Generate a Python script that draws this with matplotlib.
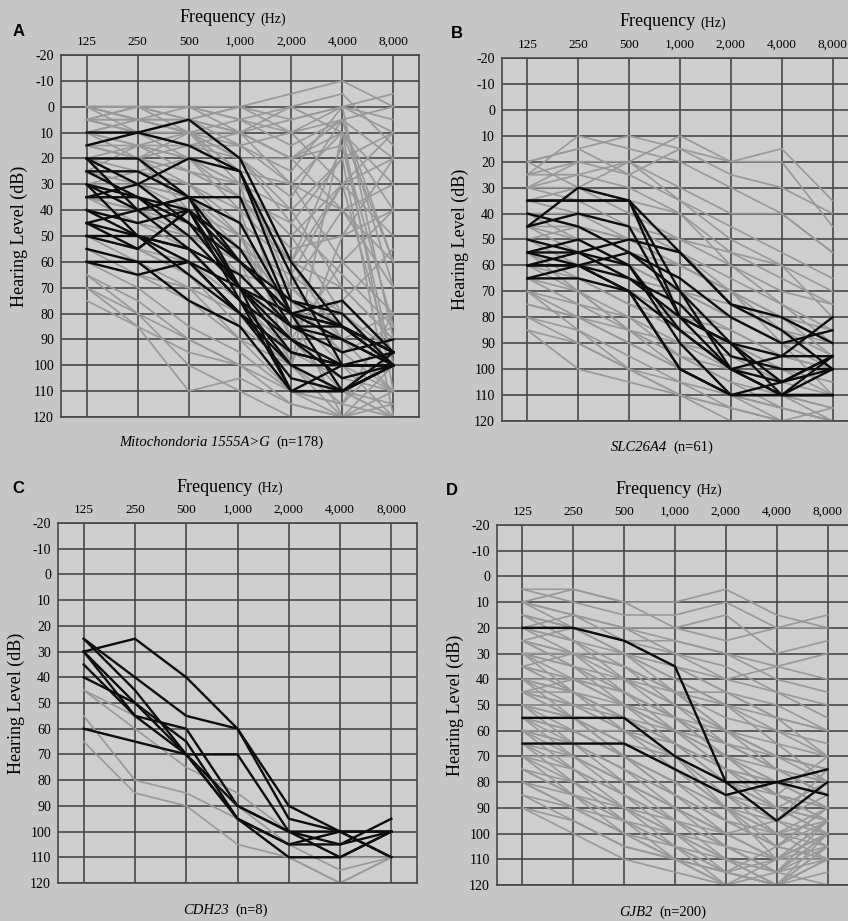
import matplotlib
matplotlib.use("Agg")
import matplotlib.pyplot as plt
import numpy as np

freq_labels = ["125", "250", "500", "1,000", "2,000", "4,000", "8,000"]
db_ticks = [-20, -10, 0, 10, 20, 30, 40, 50, 60, 70, 80, 90, 100, 110, 120]

# hearing levels (dB) at 125, 250, 500, 1k, 2k, 4k, 8k Hz
mito_black = [
    [10, 10, 15, 25, 75, 85, 95],
    [15, 10, 5, 20, 60, 85, 100],
    [20, 20, 35, 45, 80, 85, 100],
    [20, 30, 45, 70, 95, 100, 100],
    [25, 25, 35, 60, 80, 90, 100],
    [25, 35, 40, 70, 110, 110, 100],
    [30, 40, 35, 35, 80, 110, 100],
    [30, 35, 50, 70, 85, 85, 95],
    [35, 30, 20, 25, 65, 100, 100],
    [35, 35, 45, 60, 80, 75, 95],
    [40, 45, 40, 60, 75, 80, 100],
    [45, 40, 35, 70, 90, 105, 100],
    [45, 55, 40, 75, 110, 100, 100],
    [45, 50, 55, 65, 85, 95, 90],
    [50, 50, 55, 75, 100, 110, 100],
    [55, 60, 60, 80, 95, 100, 95],
    [60, 65, 60, 70, 80, 85, 95],
    [60, 60, 75, 85, 110, 110, 100],
    [30, 50, 65, 80, 100, 100, 100],
    [40, 50, 60, 80, 105, 110, 95],
    [20, 40, 55, 75, 90, 100, 100],
    [50, 55, 40, 55, 85, 90, 100],
]
mito_gray = [
    [0, 0, 0, 0, -5, -10, 0], [0, 5, 5, 0, 5, 0, 5], [5, 5, 0, 5, 10, 0, 10],
    [0, 10, 10, 5, 15, 5, 20], [5, 10, 15, 10, 0, -5, 15], [10, 5, 10, 20, 20, 10, 30],
    [15, 20, 10, 25, 30, 40, 60], [0, 0, 5, 15, 30, 60, 80], [10, 15, 20, 30, 50, 80, 100],
    [20, 20, 25, 30, 40, 20, 10], [5, 10, 20, 35, 60, 90, 110], [20, 25, 30, 40, 60, 70, 90],
    [25, 30, 40, 50, 70, 90, 80], [30, 30, 35, 55, 75, 95, 110], [15, 20, 30, 50, 90, 110, 120],
    [10, 20, 40, 60, 80, 100, 100], [35, 45, 55, 65, 70, 85, 100], [40, 45, 50, 60, 60, 30, 20],
    [25, 15, 10, 10, 5, 0, -5], [50, 60, 70, 80, 90, 100, 110], [55, 65, 75, 90, 100, 110, 115],
    [60, 70, 85, 95, 110, 120, 110], [65, 75, 90, 100, 115, 120, 120], [70, 80, 100, 110, 120, 120, 115],
    [70, 85, 110, 105, 115, 120, 120], [65, 80, 90, 100, 100, 110, 120], [45, 55, 65, 85, 100, 120, 120],
    [5, 0, 5, 10, 20, 40, 70], [10, 10, 5, 0, 10, 30, 50], [0, 5, 10, 20, 40, 70, 90],
    [20, 15, 25, 35, 55, 50, 40], [30, 35, 45, 65, 85, 75, 55], [15, 20, 25, 35, 45, 65, 85],
    [40, 50, 60, 70, 90, 100, 120], [35, 40, 50, 55, 65, 80, 95], [25, 35, 45, 60, 75, 95, 85],
    [0, 0, 0, 5, 0, 10, 40], [10, 10, 15, 15, 10, 5, 0], [50, 55, 60, 75, 95, 105, 110],
    [75, 85, 95, 100, 110, 115, 120],
    [5, 0, 0, 10, 20, 5, 60], [10, 5, 10, 15, 25, 0, 90], [0, 5, 5, 10, 30, 10, 110],
    [15, 10, 5, 10, 20, 15, 100], [20, 20, 15, 20, 35, 5, 70], [5, 10, 10, 20, 45, 20, 120],
    [25, 25, 20, 30, 50, 30, 100], [30, 25, 30, 45, 60, 15, 85], [10, 15, 15, 25, 70, 40, 30],
    [0, 0, 10, 30, 90, 60, 40], [20, 30, 35, 50, 80, 120, 100], [35, 40, 45, 60, 100, 50, 20],
    [50, 55, 65, 80, 100, 115, 80], [60, 65, 70, 90, 110, 115, 95], [15, 15, 20, 40, 100, 10, 60],
    [5, 5, 10, 25, 65, 30, 10],
]

slc_black = [
    [35, 35, 35, 55, 75, 85, 100],
    [35, 35, 35, 70, 100, 110, 110],
    [45, 30, 35, 80, 90, 95, 95],
    [40, 45, 55, 70, 90, 110, 110],
    [45, 40, 45, 80, 100, 110, 95],
    [50, 55, 50, 55, 75, 80, 90],
    [55, 50, 60, 90, 110, 110, 100],
    [55, 55, 60, 85, 100, 105, 95],
    [60, 60, 55, 65, 80, 90, 85],
    [60, 60, 70, 100, 110, 110, 110],
    [65, 60, 70, 85, 100, 95, 80],
    [65, 65, 70, 100, 110, 105, 95],
    [55, 60, 65, 80, 90, 105, 100],
    [60, 55, 65, 75, 95, 100, 100],
]
slc_gray = [
    [20, 15, 10, 15, 25, 30, 40], [25, 20, 20, 10, 20, 15, 35], [20, 15, 25, 15, 20, 20, 45],
    [30, 25, 20, 30, 40, 40, 55], [30, 30, 35, 40, 55, 60, 70], [25, 25, 30, 40, 60, 70, 75],
    [40, 40, 45, 50, 60, 75, 85], [35, 30, 20, 35, 50, 60, 80], [45, 45, 55, 60, 70, 85, 95],
    [70, 75, 80, 90, 100, 110, 120], [65, 70, 80, 95, 105, 115, 120], [75, 80, 90, 100, 110, 115, 120],
    [80, 85, 95, 105, 115, 120, 120], [85, 90, 100, 110, 115, 120, 120], [70, 85, 100, 110, 120, 120, 115],
    [60, 70, 85, 95, 100, 110, 115], [50, 60, 70, 80, 90, 100, 105], [55, 65, 75, 80, 85, 95, 100],
    [45, 50, 60, 70, 75, 85, 90], [40, 50, 60, 70, 80, 80, 85], [30, 35, 45, 55, 65, 75, 90],
    [65, 75, 85, 90, 95, 105, 110], [75, 80, 85, 95, 105, 110, 115], [50, 55, 65, 75, 85, 95, 100],
    [20, 30, 40, 50, 55, 65, 75], [60, 65, 75, 85, 90, 100, 110], [80, 90, 100, 105, 110, 115, 120],
    [70, 80, 90, 100, 110, 120, 120], [35, 40, 50, 60, 70, 80, 95], [40, 45, 50, 55, 70, 90, 110],
    [30, 20, 25, 35, 45, 55, 65], [50, 45, 50, 60, 70, 80, 90], [55, 70, 85, 100, 110, 115, 120],
    [85, 100, 105, 110, 115, 120, 120], [25, 10, 15, 20, 30, 40, 55], [45, 55, 65, 70, 80, 90, 100],
]

cdh_black = [
    [30, 25, 40, 60, 95, 100, 110],
    [25, 40, 55, 60, 90, 100, 100],
    [60, 65, 70, 70, 100, 100, 100],
    [40, 50, 70, 90, 100, 110, 100],
    [30, 55, 60, 90, 100, 105, 100],
    [35, 55, 70, 95, 105, 105, 95],
    [30, 50, 65, 95, 110, 110, 100],
    [25, 45, 70, 95, 105, 100, 110],
]
cdh_gray = [
    [45, 60, 75, 85, 100, 110, 110],
    [55, 80, 85, 95, 110, 120, 110],
    [65, 85, 90, 105, 110, 120, 110],
    [45, 55, 70, 90, 105, 115, 110],
]

gjb_black = [
    [20, 20, 25, 35, 80, 95, 80],
    [55, 55, 55, 70, 80, 80, 85],
    [65, 65, 65, 75, 85, 80, 75],
]
gjb_gray = [
    [5, 5, 10, 10, 5, 15, 20], [5, 10, 15, 15, 10, 20, 15], [10, 15, 20, 20, 15, 30, 25],
    [15, 20, 20, 25, 30, 35, 40], [15, 20, 25, 30, 35, 45, 55], [20, 25, 30, 40, 50, 60, 70],
    [25, 30, 35, 45, 55, 60, 65], [30, 35, 40, 50, 60, 70, 75], [30, 30, 35, 45, 50, 55, 60],
    [35, 40, 45, 55, 65, 75, 85], [40, 45, 50, 60, 70, 80, 85], [40, 50, 55, 65, 75, 85, 90],
    [45, 50, 60, 70, 80, 90, 95], [50, 55, 65, 75, 85, 95, 100], [55, 60, 70, 80, 90, 100, 105],
    [60, 65, 75, 85, 95, 105, 110], [65, 70, 80, 90, 100, 110, 110], [70, 75, 85, 95, 105, 115, 110],
    [75, 80, 90, 100, 110, 120, 110], [80, 90, 95, 105, 115, 120, 105], [85, 95, 105, 110, 120, 120, 110],
    [90, 100, 110, 115, 120, 115, 100], [20, 30, 45, 60, 75, 80, 90], [25, 35, 50, 65, 80, 90, 95],
    [35, 45, 60, 75, 90, 100, 100], [45, 55, 70, 85, 100, 110, 100], [50, 65, 80, 95, 110, 115, 95],
    [55, 70, 85, 100, 115, 120, 100], [60, 75, 90, 105, 120, 120, 105], [10, 20, 30, 45, 60, 70, 80],
    [15, 25, 40, 55, 70, 85, 95], [30, 45, 55, 70, 85, 95, 105], [40, 55, 70, 85, 95, 105, 90],
    [65, 80, 95, 110, 120, 110, 95], [70, 85, 100, 110, 115, 105, 90], [35, 40, 40, 45, 45, 50, 60],
    [25, 30, 30, 35, 40, 45, 50], [20, 20, 25, 25, 30, 40, 45], [50, 55, 55, 60, 70, 75, 80],
    [45, 50, 50, 55, 60, 70, 75], [60, 65, 65, 70, 80, 85, 90], [55, 60, 60, 65, 75, 80, 85],
    [75, 85, 90, 95, 100, 95, 85], [80, 90, 100, 110, 115, 110, 100], [30, 40, 50, 60, 65, 70, 75],
    [10, 5, 10, 20, 25, 20, 20], [20, 15, 20, 30, 40, 35, 30], [25, 20, 25, 35, 45, 55, 60],
    [35, 30, 35, 45, 60, 65, 70], [45, 40, 45, 55, 65, 75, 80], [30, 35, 45, 55, 70, 85, 95],
    [40, 45, 55, 65, 80, 90, 100], [50, 60, 70, 80, 95, 105, 110], [60, 70, 80, 90, 100, 100, 95],
    [70, 80, 90, 100, 105, 110, 100], [65, 75, 85, 95, 105, 115, 120], [75, 85, 95, 105, 115, 120, 115],
    [85, 90, 100, 105, 110, 115, 105], [90, 95, 105, 110, 115, 120, 110], [15, 20, 30, 40, 50, 65, 80],
    [20, 25, 35, 50, 65, 75, 85], [25, 35, 45, 55, 70, 80, 90], [35, 45, 55, 65, 75, 85, 70],
    [45, 55, 65, 75, 85, 90, 80], [55, 65, 75, 85, 95, 100, 90], [50, 50, 60, 70, 85, 100, 110],
    [40, 40, 50, 60, 75, 90, 100], [60, 60, 70, 80, 90, 105, 95], [70, 70, 80, 90, 100, 110, 105],
    [80, 85, 95, 100, 110, 120, 120], [55, 55, 65, 75, 90, 95, 75], [30, 30, 40, 50, 60, 75, 85],
    [65, 65, 75, 90, 105, 115, 100], [45, 45, 55, 70, 90, 110, 95], [10, 15, 25, 35, 45, 55, 70],
]

W, H = 848, 921
BG = "#c6c6c6"
GRID = "#474747"
SERIF = "Liberation Serif"

fig = plt.figure(figsize=(W / 100, H / 100), dpi=100, facecolor=BG)


def px(x, y):
    return x / W, 1 - y / H


def panel(box, gray, black, letter, letter_xy, freq_xy, gene, count, cap_xy):
    l, t, r, b = box
    ax = fig.add_axes([l / W, 1 - b / H, (r - l) / W, (b - t) / H])
    ax.set_facecolor("#cecece")
    x = np.arange(len(freq_labels))
    for i in x:
        ax.axvline(i, color=GRID, lw=1.2, zorder=1)
    for v in db_ticks:
        ax.axhline(v, color=GRID, lw=1.2, zorder=1)
    for row in gray:
        ax.plot(x, row, color="#989898", lw=1.2, zorder=2)
    for row in black:
        ax.plot(x, row, color="#0c0c0c", lw=1.7, zorder=3)
    ax.set_xlim(-0.5, 6.5)
    ax.set_ylim(120, -20)
    ax.xaxis.tick_top()
    ax.set_xticks(x)
    ax.set_xticklabels(freq_labels, fontfamily=SERIF, fontsize=9.5)
    ax.set_yticks(db_ticks)
    ax.set_yticklabels([str(v) for v in db_ticks], fontfamily=SERIF, fontsize=10)
    ax.tick_params(length=0, pad=5)
    for s in ax.spines.values():
        s.set_color(GRID)
        s.set_linewidth(1.2)
    ax.set_ylabel("Hearing Level (dB)", fontfamily=SERIF, fontsize=13, labelpad=4)

    fig.text(*px(*letter_xy), letter, fontfamily="Liberation Sans", fontweight="bold",
             fontsize=12, ha="center", va="center")
    fx, fy = freq_xy
    fig.text(*px(fx, fy), "Frequency", fontfamily=SERIF, fontsize=13, ha="right", va="center")
    fig.text(*px(fx + 4, fy + 1), "(Hz)", fontfamily=SERIF, fontsize=10, ha="left", va="center")
    cx, cy = cap_xy
    fig.text(*px(cx, cy), gene, fontfamily=SERIF, fontstyle="italic", fontsize=10.5,
             ha="right", va="center")
    fig.text(*px(cx + 6, cy), count, fontfamily=SERIF, fontsize=10.5, ha="left", va="center")
    return ax


panel((61, 55, 419, 417), mito_gray, mito_black, "A", (19, 32), (256, 18),
      "Mitochondoria 1555A>G", "(n=178)", (270, 442))
panel((502, 58, 858, 421), slc_gray, slc_black, "B", (457, 33), (696, 22),
      "SLC26A4", "(n=61)", (667, 447))
panel((58, 523, 417, 883), cdh_gray, cdh_black, "C", (18, 488), (253, 487),
      "CDH23", "(n=8)", (229, 910))
panel((497, 525, 853, 885), gjb_gray, gjb_black, "D", (452, 490), (692, 489),
      "GJB2", "(n=200)", (653, 912))

fig.savefig("out.png", dpi=100, facecolor=BG)
